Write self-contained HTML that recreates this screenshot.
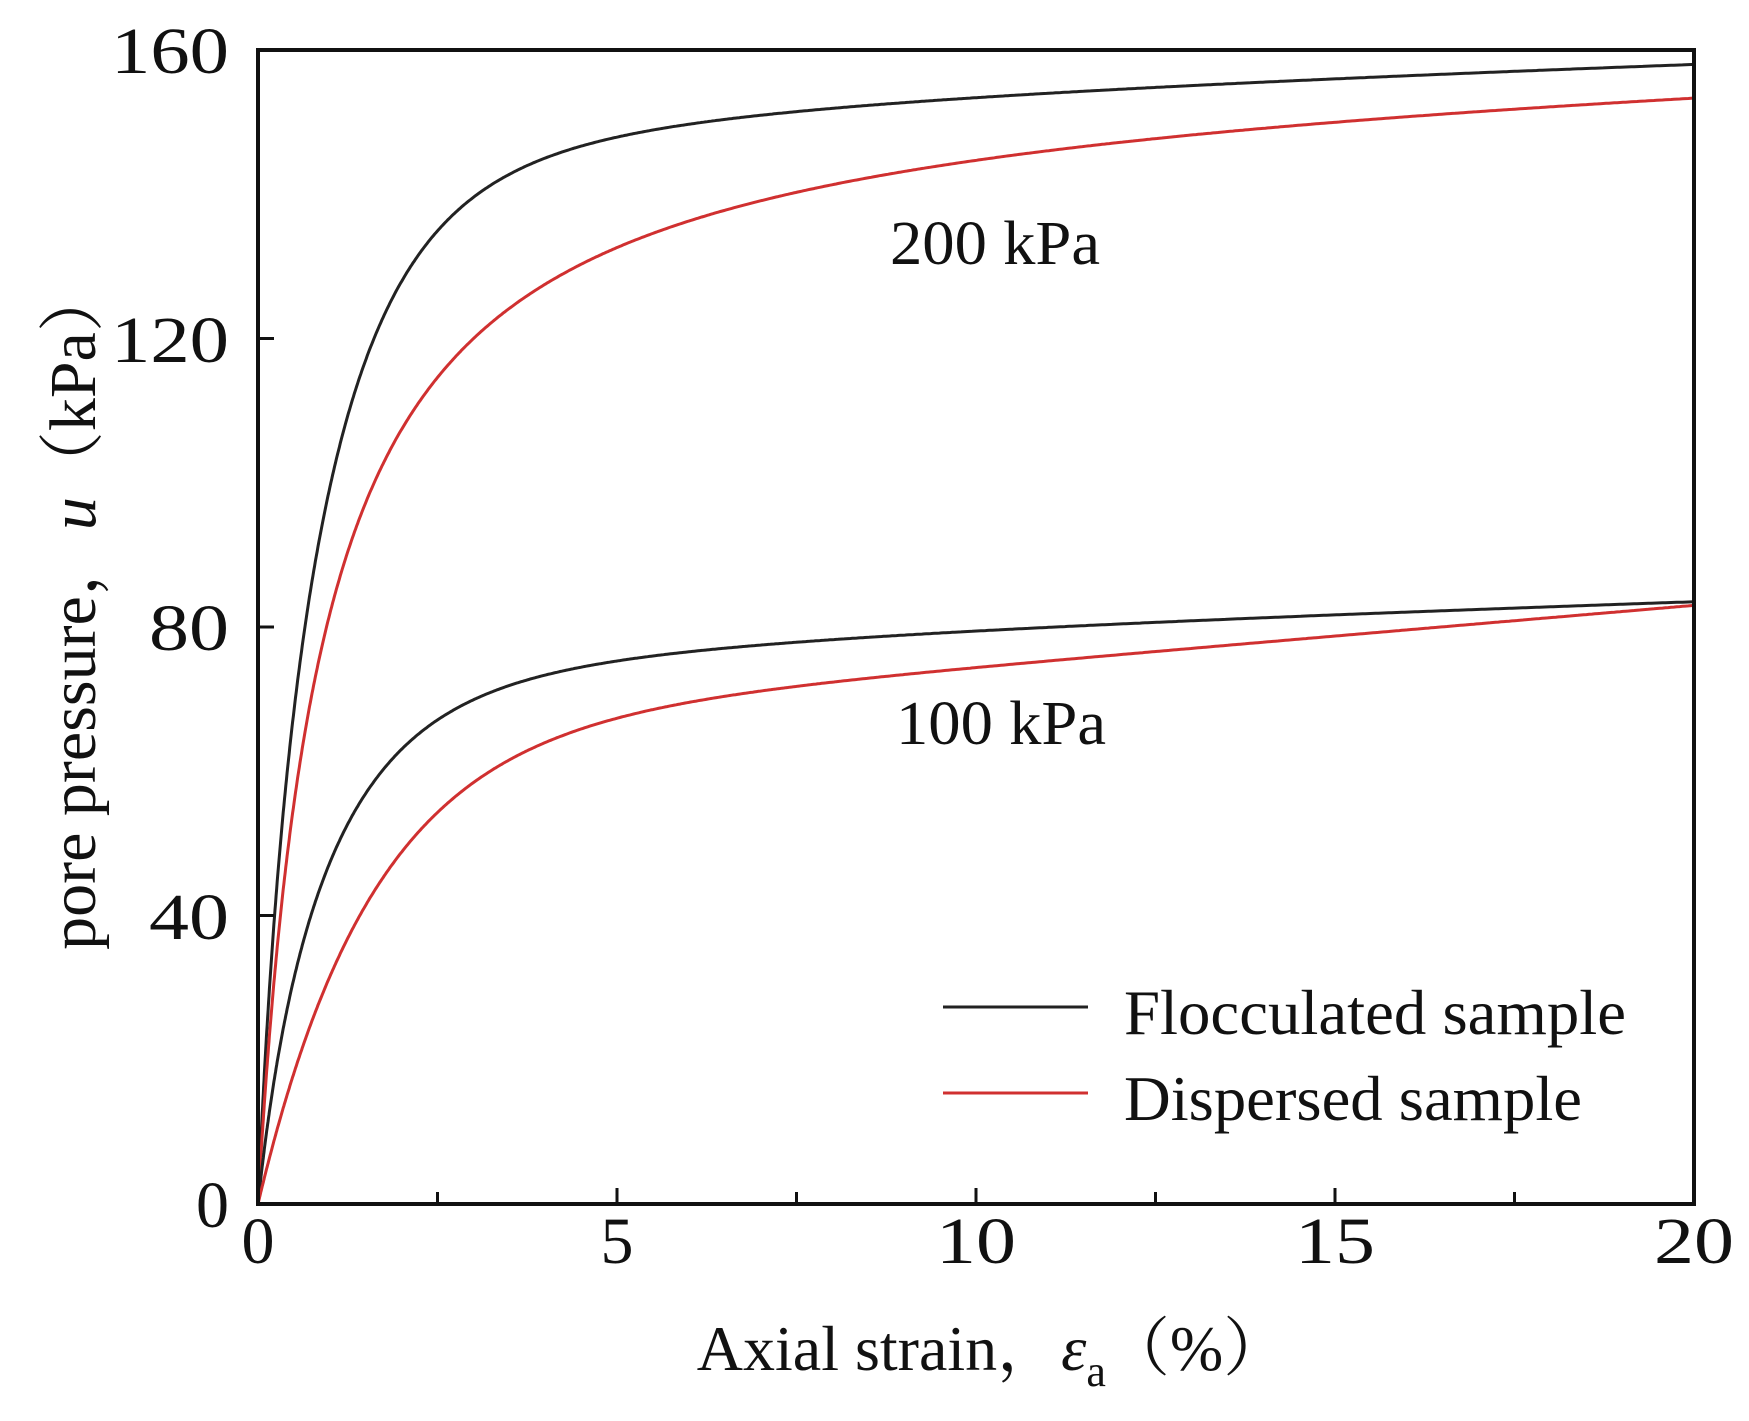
<!DOCTYPE html>
<html><head><meta charset="utf-8"><style>
html,body{margin:0;padding:0;background:#fff;}
svg{display:block;}
text{font-family:"Liberation Serif","Noto Serif CJK SC",serif;fill:#111;}
</style></head><body>
<svg id="s" width="1749" height="1421" viewBox="0 0 1749 1421" xmlns="http://www.w3.org/2000/svg">
<g font-size="66">
<text x="229" y="73" text-anchor="end" textLength="118" lengthAdjust="spacingAndGlyphs">160</text>
<text x="229" y="362" text-anchor="end" textLength="118" lengthAdjust="spacingAndGlyphs">120</text>
<text x="229" y="650" text-anchor="end" textLength="80" lengthAdjust="spacingAndGlyphs">80</text>
<text x="229" y="939" text-anchor="end" textLength="80" lengthAdjust="spacingAndGlyphs">40</text>
<text x="229" y="1227" text-anchor="end">0</text>
<text x="258" y="1263" text-anchor="middle">0</text>
<text x="617" y="1263" text-anchor="middle">5</text>
<text x="976" y="1263" text-anchor="middle" textLength="80" lengthAdjust="spacingAndGlyphs">10</text>
<text x="1335" y="1263" text-anchor="middle" textLength="80" lengthAdjust="spacingAndGlyphs">15</text>
<text x="1694" y="1263" text-anchor="middle" textLength="80" lengthAdjust="spacingAndGlyphs">20</text>
</g>
<text x="992" y="1370" font-size="64" text-anchor="middle">Axial strain，<tspan font-style="italic">ε</tspan><tspan font-size="44" dy="16">a</tspan><tspan dy="-16">（%）</tspan></text>
<text transform="translate(95,608) rotate(-90)" font-size="66" text-anchor="middle">pore pressure，<tspan font-style="italic">u</tspan>（kPa）</text>
<text x="890" y="264" font-size="62" textLength="210" lengthAdjust="spacingAndGlyphs">200 kPa</text>
<text x="896" y="744" font-size="62" textLength="210" lengthAdjust="spacingAndGlyphs">100 kPa</text>
<line x1="943" y1="1007" x2="1088" y2="1007" stroke="#222" stroke-width="3"/>
<line x1="943" y1="1093" x2="1088" y2="1093" stroke="#d03030" stroke-width="3"/>
<text x="1124" y="1034" font-size="64" textLength="502" lengthAdjust="spacingAndGlyphs">Flocculated sample</text>
<text x="1124" y="1120" font-size="64" textLength="458" lengthAdjust="spacingAndGlyphs">Dispersed sample</text>
<g id="curves" fill="none" stroke-width="3"></g>
<rect x="258" y="50" width="1436" height="1154" fill="none" stroke="#111" stroke-width="4"/>
<g id="ticks" stroke="#111" stroke-width="3"></g>
</svg>
<script>
var X=function(e){return 258+e*71.8},Y=function(u){return 1204-u*7.2125};
var fs=[[function(e){return 0.5*(149*(1-Math.exp(-e/1.05))+0.45*e)+0.5*(159.9*e/(0.5+e)+0.1*e)},"#222"],
[function(e){return 155*e/(0.9+e)+0.25*e},"#d03030"],
[function(e){return 0.5*(76*(1-Math.exp(-e/1.1))+0.4*e)+0.5*(82.8*e/(0.7+e)+0.15*e)},"#222"],
[function(e){return 66*(1-Math.exp(-e/1.6))+0.85*e},"#d03030"]];
var g=document.getElementById('curves'),h='';
fs.forEach(function(f){var d='';for(var i=0;i<=800;i++){var e=20*Math.pow(i/800,1.6);d+=(i?'L':'M')+X(e).toFixed(1)+' '+Y(f[0](e)).toFixed(1);}
h+='<path d="'+d+'" stroke="'+f[1]+'"/>';});
g.innerHTML=h;
var t='';
for(var e=2.5;e<20;e+=2.5){var L=(e%5==0)?16:12;t+='<line x1="'+X(e)+'" y1="1204" x2="'+X(e)+'" y2="'+(1204-L)+'"/>';}
for(var u=40;u<160;u+=40){t+='<line x1="258" y1="'+Y(u)+'" x2="274" y2="'+Y(u)+'"/>';}
document.getElementById('ticks').innerHTML=t;
</script>
</body></html>
